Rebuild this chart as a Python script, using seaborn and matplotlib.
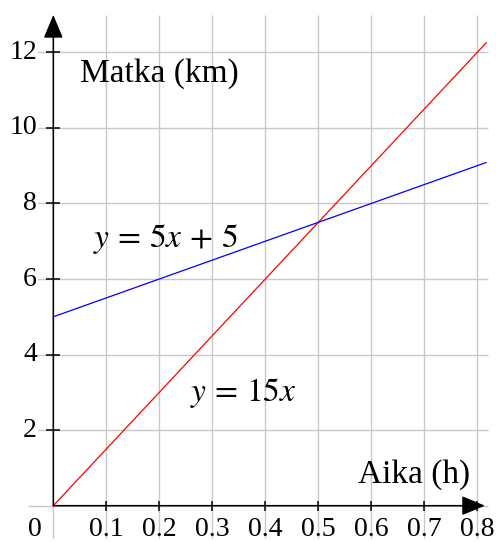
import numpy as np
import pandas as pd
import seaborn as sns
import matplotlib.pyplot as plt

sns.set_theme(style="white")
plt.rcParams["font.family"] = ["Liberation Serif", "DejaVu Serif"]
plt.rcParams["mathtext.fontset"] = "stix"

# Two travel models: distance (km) as a function of time (h)
x_end = 0.817
times = [0.0, x_end]
slopes = {"y = 15x": 15.0, "y = 5x + 5": 5.0}
intercepts = {"y = 15x": 0.0, "y = 5x + 5": 5.0}
colors = {"y = 15x": "#ff0000", "y = 5x + 5": "#0000ff"}

x_ticks = [0.1, 0.2, 0.3, 0.4, 0.5, 0.6, 0.7, 0.8]
x_tick_labels = ["0.1", "0.2", "0.3", "0.4", "0.5", "0.6", "0.7", "0.8"]
y_ticks = [2, 4, 6, 8, 10, 12]
y_tick_labels = ["2", "4", "6", "8", "10", "12"]

rows = []
for name in slopes:
    for t in times:
        rows.append({"aika": t, "matka": slopes[name] * t + intercepts[name], "malli": name})
df = pd.DataFrame(rows)

fig = plt.figure(figsize=(4.96, 5.42), dpi=100)
ax = fig.add_axes([0, 0, 1, 1])
ax.set_xlim(-0.1006, 0.8353)
ax.set_ylim(-0.961, 13.385)
ax.axis("off")

grid_kw = dict(color="#c8c8c8", lw=1.0, zorder=1)
# vertical grid lines
ax.vlines([0.0] + x_ticks, -0.85, 12.99, **grid_kw)
# horizontal grid lines
ax.hlines([0] + y_ticks, -0.048, 0.82, **grid_kw)

sns.lineplot(data=df, x="aika", y="matka", hue="malli", palette=colors,
             linewidth=0.9, legend=False, ax=ax, zorder=3)

# axes with arrow heads
arrow_kw = dict(arrowstyle="-|>,head_length=1.2,head_width=0.5", lw=1.1,
                color="black", shrinkA=0, shrinkB=0)
ax.annotate("", xy=(0.8145, 0), xytext=(0, 0), arrowprops=arrow_kw, zorder=4)
ax.annotate("", xy=(0, 12.99), xytext=(0, 0), arrowprops=arrow_kw, zorder=4)

# tick marks
ax.plot(x_ticks, [0] * len(x_ticks), ls="none", marker="|", ms=7.5,
        mew=1.1, color="black", zorder=5)
ax.plot([0] * len(y_ticks), y_ticks, ls="none", marker="_", ms=9.5,
        mew=1.1, color="black", zorder=5)

fs = 20
for xv, lab in zip(x_ticks, x_tick_labels):
    ax.text(xv, -0.80, lab, ha="center", va="baseline", fontsize=fs, color="black")
ax.text(-0.034, -0.80, "0", ha="center", va="baseline", fontsize=fs, color="black")
for yv, lab in zip(y_ticks, y_tick_labels):
    ax.text(-0.031, yv, lab, ha="right", va="center", fontsize=fs, color="black",
            bbox=dict(facecolor="white", edgecolor="none", pad=0.5), zorder=6)

lfs = 24
ax.text(0.051, 11.45, "Matka (km)", ha="left", va="center", fontsize=lfs, color="black")
ax.text(0.787, 0.82, "Aika (h)", ha="right", va="center", fontsize=lfs, color="black")
ax.text(0.075, 7.06, r"$y\,=\,5x\,+\,5$", ha="left", va="center", fontsize=lfs, color="black")
ax.text(0.258, 2.97, r"$y\,=\,15x$", ha="left", va="center", fontsize=lfs, color="black")

fig.savefig("out.png", dpi=100)
